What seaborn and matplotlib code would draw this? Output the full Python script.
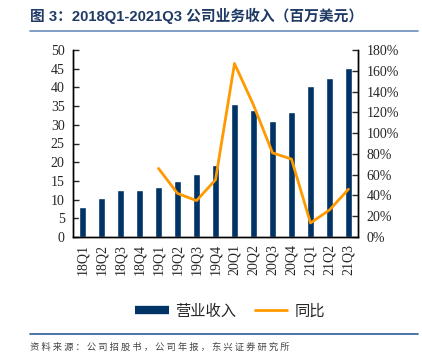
import numpy as np
import pandas as pd
import matplotlib
matplotlib.use('Agg')
import matplotlib.pyplot as plt
from matplotlib.lines import Line2D
from matplotlib.ticker import FuncFormatter
import seaborn as sns

quarters = ['18Q1', '18Q2', '18Q3', '18Q4', '19Q1', '19Q2', '19Q3', '19Q4',
            '20Q1', '20Q2', '20Q3', '20Q4', '21Q1', '21Q2', '21Q3']
revenue = [7.9, 10.5, 12.7, 12.5, 13.4, 15.0, 16.9, 19.3,
           35.6, 34.0, 31.1, 33.3, 40.4, 42.4, 45.3]
yoy_quarters = quarters[4:]
yoy = [66, 42, 35, 55, 167, 127, 81, 75, 13.5, 26, 46]

BAR_COLOR = '#003366'
LINE_COLOR = '#FF9900'
TITLE_COLOR = '#1F3A64'
RULE_COLOR = '#2E5C9A'

sns.set_style('white')
plt.rcParams['font.family'] = ['Liberation Serif', 'Noto Sans CJK SC']

fig = plt.figure(figsize=(4.22, 3.63), dpi=100)
ax = fig.add_axes([73 / 422, 1 - 237 / 363, (358 - 73) / 422, (237 - 50) / 363])

df = pd.DataFrame({'quarter': quarters, 'revenue': revenue})
sns.barplot(data=df, x='quarter', y='revenue', color=BAR_COLOR, width=0.32,
            saturation=1, ax=ax)

# YoY line only exists from 19Q1 on
ax2 = ax.twinx()
pos = [quarters.index(q) for q in yoy_quarters]
sns.lineplot(x=pos, y=yoy, color=LINE_COLOR, lw=2, ax=ax2)

ax.set_xlim(-0.5, len(quarters) - 0.5)
ax.set_ylim(0, 50)
ax.set_yticks(np.arange(0, 51, 5))
ax2.set_ylim(0, 180)
ax2.set_yticks(np.arange(0, 181, 20))
ax2.yaxis.set_major_formatter(FuncFormatter(lambda v, _: f'{v:.0f}%'))
ax.set_xlabel('')
ax.set_ylabel('')

for a in (ax, ax2):
    a.spines['top'].set_visible(False)
    for s in ('left', 'right', 'bottom'):
        a.spines[s].set_color('black')
        a.spines[s].set_linewidth(1)
ax.tick_params(axis='y', direction='in', length=4, width=1, left=True,
               labelsize=10, pad=6)
ax2.tick_params(axis='y', direction='in', length=4, width=1, right=True,
                labelsize=10, pad=6)
ax.tick_params(axis='x', length=0, labelsize=10, labelrotation=90, pad=5)

# title, rules and source note
fig.text(30 / 422, 1 - 16 / 363, '图 3：2018Q1-2021Q3 公司业务收入（百万美元）',
         fontsize=10.6, fontweight='bold', color=TITLE_COLOR, va='center',
         family=['Liberation Sans', 'Noto Sans CJK SC'])
fig.add_artist(Line2D([30 / 422, 418 / 422], [1 - 31 / 363, 1 - 31 / 363],
                      color=RULE_COLOR, lw=1.2, alpha=0.7))
fig.add_artist(Line2D([30 / 422, 418 / 422], [1 - 334 / 363, 1 - 334 / 363],
                      color=RULE_COLOR, lw=1.2))
fig.text(30 / 422, 1 - 347 / 363,
         '资 料 来 源 ： 公 司 招 股 书 ， 公 司 年 报 ， 东 兴 证 券 研 究 所',
         fontsize=6.7, style='italic', color='#444444', va='center',
         family=['Noto Sans CJK SC'])

handles = [Line2D([], [], color=BAR_COLOR, lw=6, solid_capstyle='butt'),
           Line2D([], [], color=LINE_COLOR, lw=2, solid_capstyle='butt')]
fig.legend(handles, ['营业收入', '同比'], loc='center',
           bbox_to_anchor=(0.545, 1 - 311 / 363), ncol=2, frameon=False,
           handlelength=2.2, handletextpad=0.4, columnspacing=1.2,
           prop={'family': ['Noto Sans CJK SC'], 'size': 11})

fig.savefig('out.png', dpi=100)
